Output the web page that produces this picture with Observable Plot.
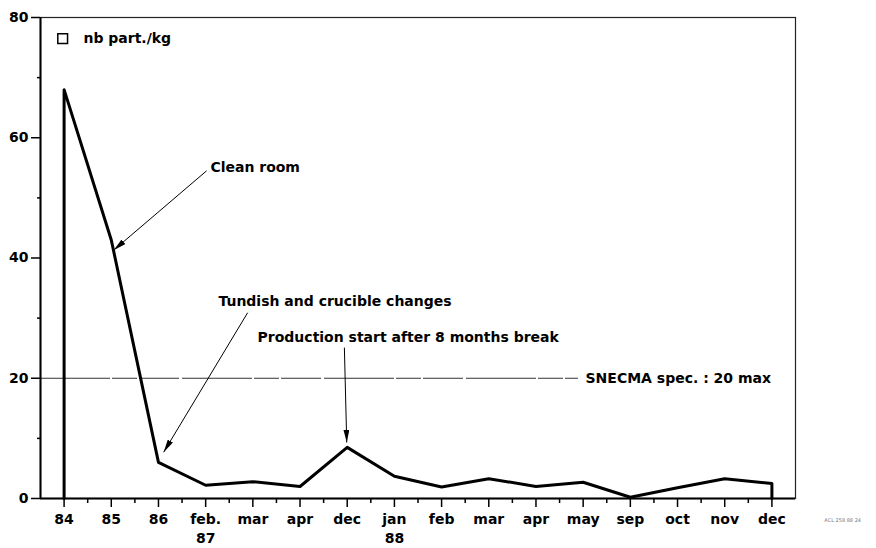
<!DOCTYPE html>
<html>
<head>
<meta charset="utf-8">
<script src="https://cdn.jsdelivr.net/npm/d3@7"></script>
<script src="https://cdn.jsdelivr.net/npm/@observablehq/plot@0.6"></script>
<style>
  html, body { margin: 0; padding: 0; background: white; }
</style>
</head>
<body>
<div id="chart"></div>
<script>
// Categories (x tick labels) and series values (nb part./kg)
const categories = ["84", "85", "86", "feb.\n87", "mar", "apr", "dec", "jan\n88", "feb", "mar", "apr", "may", "sep", "oct", "nov", "dec"];
const values = [68, 43, 6, 2.2, 2.8, 2.0, 8.5, 3.7, 1.9, 3.3, 2.0, 2.7, 0.2, 1.8, 3.3, 2.5];

const yTicks = [0, 20, 40, 60, 80];
const yMinorTicks = [10, 30, 50, 70];

const specLimit = 20;
const specLabel = "SNECMA spec. : 20 max";
const legendLabel = "nb part./kg";

// Annotations (data coordinates: x = category index, y = value)
const noteTexts = ["Clean room", "Tundish and crucible changes", "Production start after 8 months break"];
const noteX = [3.10, 3.27, 4.10];
const noteY = [55.0, 32.8, 26.8];
const arrowFromX = [3.02, 3.89, 5.94];
const arrowFromY = [54.5, 30.9, 25.1];
const arrowToX = [1.05, 2.11, 5.99];
const arrowToY = [41.3, 7.7, 9.3];

// Build tables from the arrays
const idx = categories.map((_, i) => i);
const lineData = [{i: 0, v: 0}, ...values.map((v, i) => ({i, v})), {i: values.length - 1, v: 0}];
const xMinor = idx.slice(0, -1).map(i => i + 0.5);
const notes = noteTexts.map((t, k) => ({t, x: noteX[k], y: noteY[k]}));
const arrows = noteTexts.map((t, k) => ({x1: arrowFromX[k], y1: arrowFromY[k], x2: arrowToX[k], y2: arrowToY[k]}));

const font = "DejaVu Sans";

const svg = Plot.plot({
  width: 876,
  height: 548,
  marginLeft: 40,
  marginRight: 81,
  marginTop: 17,
  marginBottom: 50,
  x: {domain: [-0.5, categories.length - 0.5], label: null},
  y: {domain: [0, 80], label: null},
  style: {fontFamily: font, fontWeight: "bold", fontSize: "14px", color: "black", background: "white"},
  marks: [
    Plot.frame({stroke: "#222", strokeWidth: 1.2}),
    Plot.ruleY([specLimit], {x1: -0.5, x2: 10.9, stroke: "#333", strokeWidth: 1, strokeDasharray: "70,2,25,2,40,3"}),
    Plot.text([specLabel], {x: 11.05, y: specLimit, text: d => d, textAnchor: "start", fontSize: 14, fontWeight: "bold", fill: "black"}),
    Plot.axisY(yTicks, {tickSize: 9, tickPadding: 3, fontSize: 14, fontWeight: "bold", strokeWidth: 1.5, tickFormat: d => d}),
    Plot.axisY(yMinorTicks, {tickSize: 3, strokeWidth: 1.5, tickFormat: () => ""}),
    Plot.axisX(idx, {tickSize: 9, tickPadding: 4, fontSize: 14, fontWeight: "bold", strokeWidth: 1.5, lineHeight: 1.3, tickFormat: i => categories[i]}),
    Plot.axisX(xMinor, {tickSize: 5, strokeWidth: 1.5, tickFormat: () => ""}),
    Plot.ruleX([-0.5], {stroke: "black", strokeWidth: 2}),
    Plot.ruleY([0], {stroke: "black", strokeWidth: 2}),
    Plot.line(lineData, {x: "i", y: "v", stroke: "black", strokeWidth: 3, strokeLinejoin: "round"}),
    Plot.link(arrows, {x1: "x1", y1: "y1", x2: "x2", y2: "y2", stroke: "black", strokeWidth: 1}),
    Plot.text(notes, {x: "x", y: "y", text: "t", textAnchor: "start", fontSize: 14, fontWeight: "bold", fill: "black"}),
    Plot.dot([legendLabel], {x: -0.03, y: 76.5, symbol: "square", r: 5.5, stroke: "black", strokeWidth: 1.5, fill: "none"}),
    Plot.text([legendLabel], {x: 0.41, y: 76.5, text: d => d, textAnchor: "start", fontSize: 14, fontWeight: "bold", fill: "black"}),
    Plot.text(["ACL 258 88 24"], {x: 16.5, y: -3.7, text: d => d, fontSize: 5, fontWeight: "normal", fill: "#777"})
  ]
});

// Filled arrowheads for the annotation arrows
const s = d3.select(svg);
const defs = s.insert("defs", ":first-child");
defs.append("marker")
  .attr("id", "ah")
  .attr("viewBox", "0 0 13 6")
  .attr("refX", 13)
  .attr("refY", 3)
  .attr("markerWidth", 13)
  .attr("markerHeight", 6)
  .attr("markerUnits", "userSpaceOnUse")
  .attr("orient", "auto")
  .append("path")
  .attr("d", "M0,0L13,3L0,6z")
  .attr("fill", "black");
s.selectAll("g[aria-label='link'] path").attr("marker-end", "url(#ah)");

document.getElementById("chart").appendChild(svg);
</script>
</body>
</html>
